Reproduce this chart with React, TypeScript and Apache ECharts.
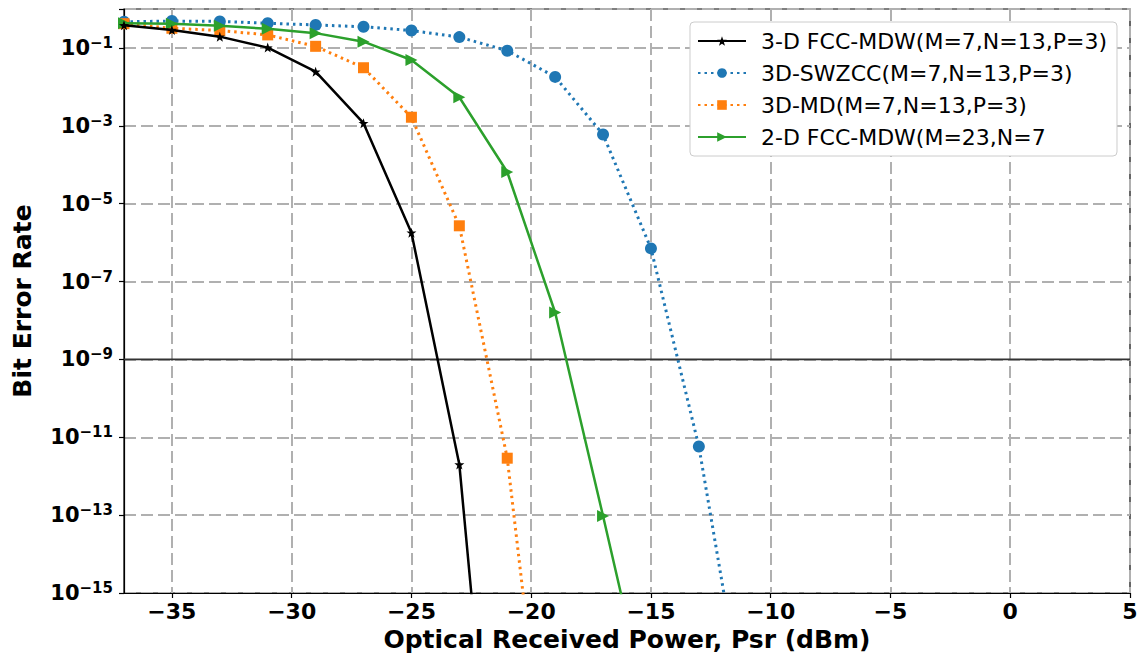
import React, { useEffect, useRef } from "react";
import * as echarts from "echarts";

const xValues = [-37, -35, -33, -31, -29, -27, -25, -23, -21, -19, -17, -15, -13, -11];

const fccMdw3d = [0.38, 0.29, 0.195, 0.102, 0.0245, 1.17e-3, 1.8e-6, 2.0e-12, 1.2e-25];
const swzcc3d = [0.47, 0.49, 0.48, 0.43, 0.39, 0.35, 0.28, 0.19, 0.085, 0.018, 6.0e-4, 7.1e-7, 5.8e-12, 3.6e-19];
const md3d = [0.42, 0.32, 0.28, 0.216, 0.11, 0.031, 1.66e-3, 2.7e-6, 2.9e-12, 8.7e-23];
const fccMdw2d = [0.43, 0.42, 0.37, 0.31, 0.24, 0.145, 0.049, 5.4e-3, 6.5e-5, 1.6e-8, 9.5e-14, 4.4e-19];

const seriesNames = [
  "3-D FCC-MDW(M=7,N=13,P=3)",
  "3D-SWZCC(M=7,N=13,P=3)",
  "3D-MD(M=7,N=13,P=3)",
  "2-D FCC-MDW(M=23,N=7",
];

const xTicks = [-35, -30, -25, -20, -15, -10, -5, 0, 5];
const xRange = [-37, 5];
const thresholdBer = 1e-9;

const STAR =
  "path://M0,-10 L2.35,-3.24 L9.51,-3.09 L3.8,1.24 L5.88,8.09 L0,4 L-5.88,8.09 L-3.8,1.24 L-9.51,-3.09 L-2.35,-3.24 Z";

const FONT = "DejaVu Sans";

function pairs(vals: number[]) {
  return vals.map((v, i) => [xValues[i], v]);
}

export default function App() {
  const ref = useRef<HTMLDivElement>(null);
  useEffect(() => {
    document.body.style.margin = "0";
    if (!ref.current) return;
    const chart = echarts.init(ref.current, null, { renderer: "svg" });
    const gridLine = { show: true, lineStyle: { color: "#b0b0b0", width: 2, type: [12, 5] } };
    const dotted = [2.5, 4];
    chart.setOption({
      animation: false,
      backgroundColor: "#fff",
      grid: {
        left: 124,
        right: 7,
        top: 9,
        bottom: 60,
        containLabel: false,
        outerBoundsMode: "none",
        show: true,
        borderColor: "#000",
        borderWidth: 1.2,
      },
      legend: {
        orient: "vertical",
        right: 20,
        top: 22,
        padding: [7, 10, 7, 7],
        backgroundColor: "#fff",
        borderColor: "#cccccc",
        borderWidth: 1,
        borderRadius: 4,
        itemWidth: 48,
        itemHeight: 12,
        itemGap: 8,
        textStyle: {
          fontFamily: FONT,
          fontSize: 22,
          color: "#000",
          lineHeight: 24,
          padding: [0, 0, 0, 10],
        },
        data: seriesNames,
      },
      xAxis: {
        type: "value",
        min: xRange[0],
        max: xRange[1],
        axisLine: { show: true, onZero: false, lineStyle: { color: "#000", width: 1.2 } },
        axisTick: { show: true, length: 5, customValues: xTicks, lineStyle: { color: "#000", width: 1.2 } },
        axisLabel: {
          customValues: xTicks,
          fontFamily: FONT,
          fontWeight: "bold",
          fontSize: 22,
          color: "#000",
          margin: 7,
          formatter: (v: number) => String(v).replace("-", "\u2212"),
        },
        splitLine: gridLine,
        name: "Optical Received Power, Psr (dBm)",
        nameLocation: "middle",
        nameGap: 32,
        nameTextStyle: { fontFamily: FONT, fontWeight: "bold", fontSize: 25, color: "#000" },
      },
      yAxis: {
        type: "log",
        logBase: 10,
        min: 1e-15,
        max: 1,
        interval: 2,
        axisLine: { show: true, onZero: false, lineStyle: { color: "#000", width: 1.2 } },
        axisTick: { show: true, length: 5, lineStyle: { color: "#000", width: 1.2 } },
        axisLabel: {
          fontFamily: FONT,
          color: "#000",
          margin: 11,
          formatter: (v: number) => {
            const e = Math.round(Math.log10(v));
            if (e >= 0) return "";
            return "{b|10}{s|\u2212" + String(-e) + "}";
          },
          rich: {
            b: { fontFamily: FONT, fontWeight: "bold", fontSize: 21, color: "#000" },
            s: {
              fontFamily: FONT,
              fontWeight: "bold",
              fontSize: 15,
              color: "#000",
              verticalAlign: "top",
              padding: [0, 0, 10, 0],
            },
          },
        },
        splitLine: gridLine,
        name: "Bit Error Rate",
        nameLocation: "middle",
        nameGap: 89,
        nameTextStyle: { fontFamily: FONT, fontWeight: "bold", fontSize: 25, color: "#000" },
      },
      series: [
        {
          name: "threshold",
          type: "line",
          data: [
            [xRange[0], thresholdBer],
            [xRange[1], thresholdBer],
          ],
          symbol: "none",
          silent: true,
          lineStyle: { color: "#333333", width: 1.6 },
          z: 1,
        },
        {
          name: seriesNames[0],
          type: "line",
          data: pairs(fccMdw3d),
          symbol: STAR,
          symbolSize: 10,
          color: "#000000",
          lineStyle: { width: 2.5, color: "#000000" },
          itemStyle: { color: "#000000" },
          z: 5,
        },
        {
          name: seriesNames[1],
          type: "line",
          data: pairs(swzcc3d),
          symbol: "circle",
          symbolSize: 12,
          color: "#1f77b4",
          lineStyle: { width: 3, color: "#1f77b4", type: dotted },
          itemStyle: { color: "#1f77b4" },
          z: 2,
        },
        {
          name: seriesNames[2],
          type: "line",
          data: pairs(md3d),
          symbol: "rect",
          symbolSize: 11,
          color: "#ff7f0e",
          lineStyle: { width: 3, color: "#ff7f0e", type: dotted },
          itemStyle: { color: "#ff7f0e" },
          z: 3,
        },
        {
          name: seriesNames[3],
          type: "line",
          data: pairs(fccMdw2d),
          symbol: "triangle",
          symbolRotate: -90,
          symbolSize: 12,
          color: "#2ca02c",
          lineStyle: { width: 2.5, color: "#2ca02c" },
          itemStyle: { color: "#2ca02c" },
          z: 4,
        },
      ],
    });
    return () => chart.dispose();
  }, []);
  return <div ref={ref} style={{ width: 1137, height: 653 }} />;
}
